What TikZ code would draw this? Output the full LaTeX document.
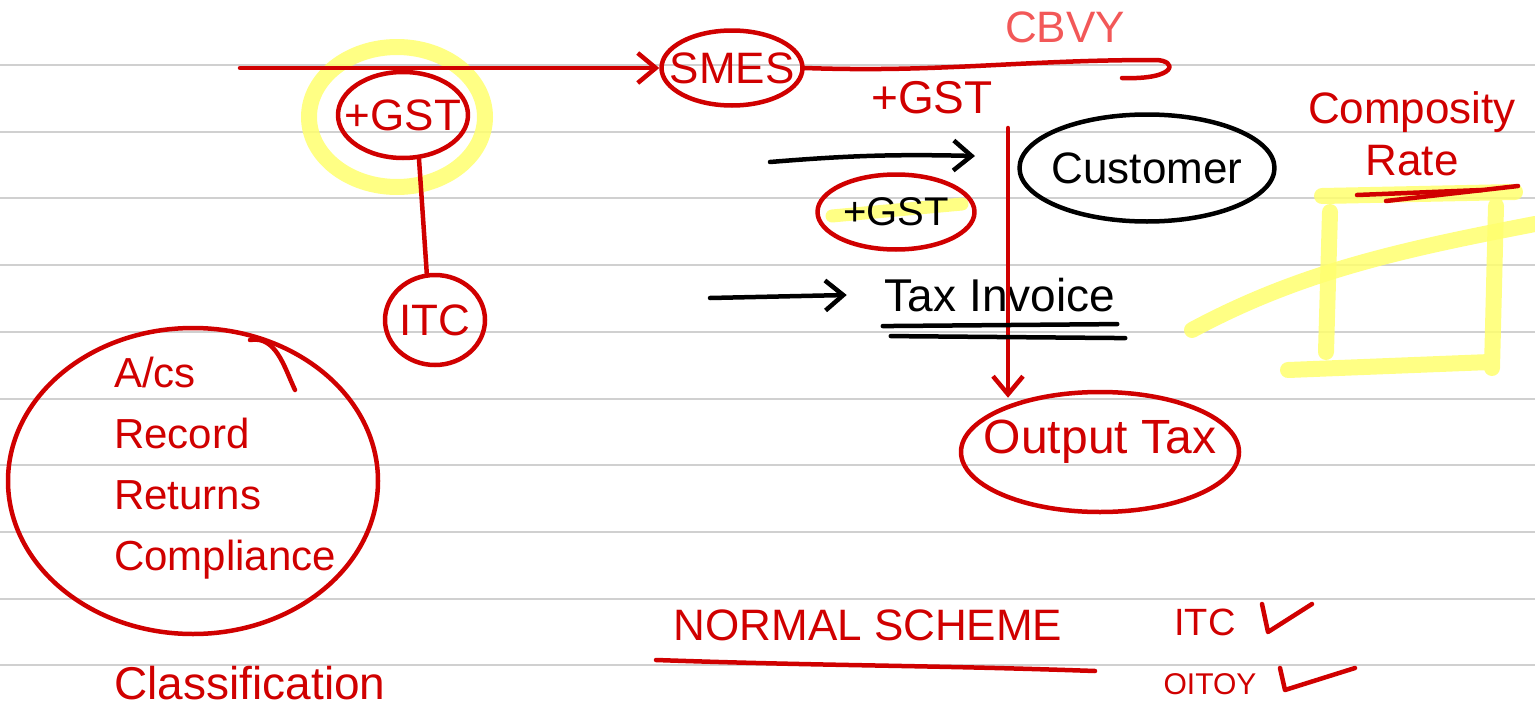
\documentclass[tikz,border=0pt]{standalone}
\usepackage{fontspec}
\setmainfont{Liberation Sans}
\usepackage{tikz}
\usetikzlibrary{arrows,arrows.meta,shapes.geometric,positioning}

\definecolor{ink}{RGB}{208,0,0}
\definecolor{softink}{RGB}{242,88,88}
\definecolor{marker}{RGB}{255,255,110}
\definecolor{ruling}{RGB}{208,208,208}

\begin{document}
\begin{tikzpicture}[x=1pt,y=-1pt,>={Straight Barb[length=18pt,width=30pt]},line cap=round,line join=round,
                    red note/.style={text=ink,font=\fontsize{44}{52}\selectfont,inner sep=2pt},
                    black note/.style={text=black,font=\fontsize{44}{52}\selectfont,inner sep=2pt},
                    ring/.style={ellipse,draw=ink,line width=4.5pt,inner sep=-40pt},
                    pen/.style={draw=ink,line width=4.5pt},
                    blackpen/.style={draw=black,line width=4.5pt},
                    highlight/.style={draw=marker,line width=16pt,opacity=.85}]

  \useasboundingbox (0,0) rectangle (1535,720);

  % ruled page
  \foreach \k in {0,...,9}
    \draw[ruling,line width=2pt] (0,65+66.7*\k) -- (1535,65+66.7*\k);

  % marker strokes
  \draw[highlight] (397,117) ellipse (88 and 70);
  \draw[highlight,line width=13pt] (832,216) -- (962,204);
  \draw[highlight] (1322,196) -- (1515,192)
                   (1330,212) -- (1326,352)
                   (1496,206) -- (1492,368)
                   (1288,370) -- (1490,362);
  \draw[highlight] (1192,330) .. controls (1300,272) and (1400,250) .. (1535,224);

  % flow on the left
  \coordinate (start) at (240,68);
  \node[red note,ring,minimum width=141,minimum height=75] (smes) at (732,68) {SMES};
  \node[red note,ring,minimum width=130,minimum height=86] (gst) at (403,115) {+GST};
  \node[red note,ring,minimum width=100,minimum height=90] (itc) at (435,320) {ITC};

  \path[pen]
    (start) edge[->] (smes)
    (gst.-70) edge (itc.100);

  % supply to the customer
  \node[text=softink,font=\fontsize{44}{52}\selectfont] (cbvy) at (1065,27) {CBVY};
  \coordinate (hook) at (1122,78);
  \draw[pen] (smes.east) to[out=-2,in=180] (1155,60)
             .. controls (1178,60) and (1178,80) .. (hook);

  \node[red note,font=\fontsize{46}{52}\selectfont] (plusgst) at (932,98) {+GST};
  \node[black note,draw=black,ellipse,line width=4.5pt,inner sep=-40pt,
        minimum width=255,minimum height=107] (cust) at (1147,168) {Customer};
  \node[black note,ring,font=\fontsize{40}{48}\selectfont,
        minimum width=157,minimum height=75] (gstin) at (896,212) {+GST};
  \node[black note,font=\fontsize{46}{52}\selectfont] (taxinv) at (1000,295) {Tax Invoice};
  \node[red note,ring,text depth=30pt,font=\fontsize{48}{52}\selectfont,
        minimum width=278,minimum height=120] (outtax) at (1100,452) {Output Tax};

  \coordinate (top) at (1008,128);
  \coordinate (a1) at (770,162);
  \coordinate (a2) at (975,156);
  \coordinate (a3) at (710,298);

  \draw[pen,->] (top) -- ([yshift=-8pt]top |- outtax.north);
  \draw[blackpen,->] (a1) to[bend left=3] (a2);
  \draw[blackpen,->] (a3) -- ([xshift=-36pt]taxinv.west);
  \draw[blackpen] ([yshift=-12pt]taxinv.south west) -- ([yshift=-10pt]taxinv.south east);
  \draw[blackpen] ([shift={(8pt,-22pt)}]taxinv.south west) -- ([shift={(8pt,-24pt)}]taxinv.south east);

  % duties under the scheme
  \node[red note,align=left,font=\fontsize{42}{61}\selectfont] (duties) at (225,468)
    {A/cs\\Record\\Returns\\Compliance};
  \draw[pen] (193,481) ellipse (185 and 153);
  \draw[pen] (250,340) to[out=10,in=115] (295,390);
  \node[red note,font=\fontsize{46}{52}\selectfont] (classif) at (250,683) {Classification};

  \node[red note] (normal) at (868,625) {NORMAL SCHEME};
  \draw[pen] (656,660) to[out=-2,in=178] (1095,671);

  \node[red note,font=\fontsize{38}{44}\selectfont] (itcok) at (1205,622) {ITC};
  \node[red note,font=\fontsize{30}{36}\selectfont] (oitoy) at (1210,684) {OITOY};
  \draw[pen] (1262,604) -- (1268,632) -- (1312,604);
  \draw[pen] (1280,668) -- (1285,690) -- (1355,668);

  % composition side note
  \node[red note,align=center,font=\fontsize{44}{52}\selectfont] (comp) at (1412,134)
    {Composity\\Rate};
  \draw[pen] (1357,195) -- (1482,190);
  \draw[pen] (1386,201) -- (1518,186);
\end{tikzpicture}
\end{document}
